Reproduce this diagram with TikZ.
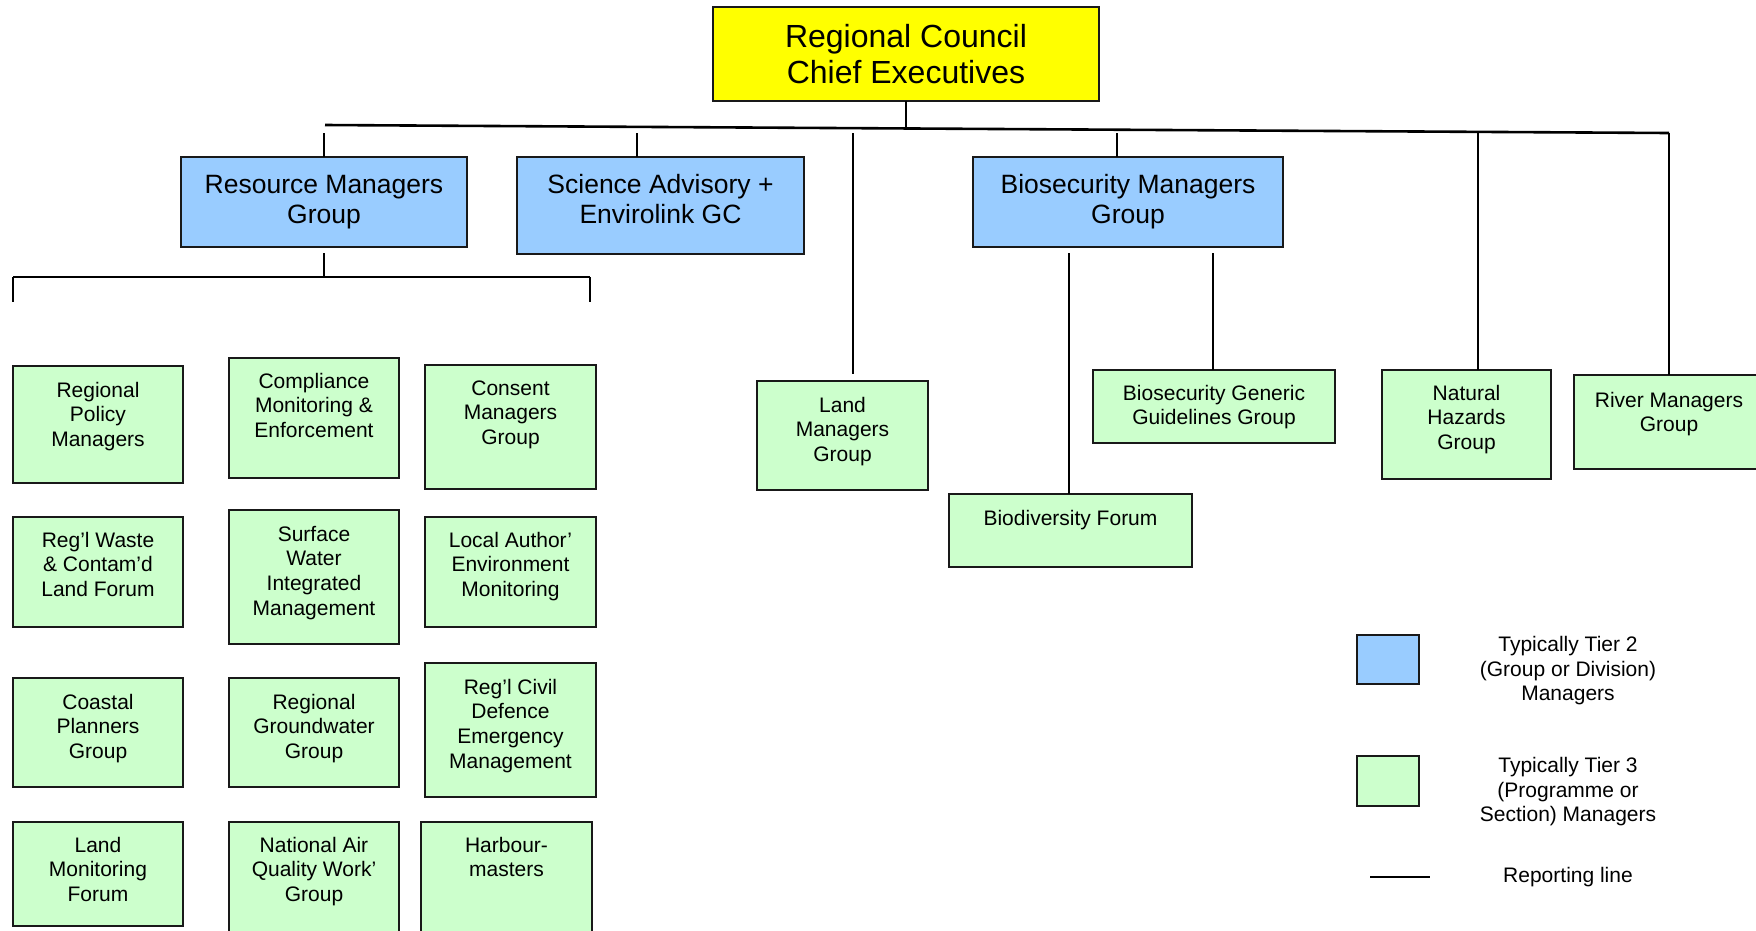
\documentclass[tikz,border=0pt]{standalone}
\usepackage{fontspec}
\setmainfont{Liberation Sans}
\definecolor{tiertop}{HTML}{FFFF00}
\definecolor{tiertwo}{HTML}{99CCFF}
\definecolor{tierthree}{HTML}{CCFFCC}
\newcommand\obox[8]{%
  \node[#7,anchor=north west] (#1) at (#2,#3)
    {\parbox[c][\dimexpr #5pt-#3pt\relax][t]{\dimexpr #4pt-#2pt\relax}{\centering\vspace*{#6pt}\strut #8}};}
\tikzset{
  boxbase/.style={draw=black!90,line width=2pt,inner sep=0pt,outer sep=0pt},
  topbox/.style={boxbase,fill=tiertop,font=\fontsize{32}{36}\selectfont},
  twobox/.style={boxbase,fill=tiertwo,font=\fontsize{26.5}{30}\selectfont},
  threebox/.style={boxbase,fill=tierthree,font=\fontsize{21}{24.6}\selectfont},
  legtext/.style={font=\fontsize{21}{24.5}\selectfont,align=center,inner sep=0pt},
  conn/.style={line width=1.6pt,black},
  barline/.style={line width=2.6pt,black},
}
\begin{document}
\begin{tikzpicture}[x=1pt,y=-1pt]
\useasboundingbox (0,0) rectangle (1756,930);
\clip (0,0) rectangle (1756,930);
% top
\obox{top}{713}{7}{1099}{101}{15}{topbox}{Regional Council\\Chief Executives}
% tier 2
\obox{rmg}{181}{157}{467}{247}{15}{twobox}{Resource Managers\\Group}
\obox{sci}{517}{157}{804}{254}{15}{twobox}{Science Advisory +\\Envirolink GC}
\obox{bio}{973}{157}{1283}{247}{15}{twobox}{Biosecurity Managers\\Group}
% tier 3 left grid
\obox{rpm}{13}{366}{183}{483}{14}{threebox}{Regional\\Policy\\Managers}
\obox{cme}{229}{358}{399}{478}{13}{threebox}{Compliance\\Monitoring \&\\Enforcement}
\obox{cmg}{425}{365}{596}{489}{13}{threebox}{Consent\\Managers\\Group}
\obox{rwf}{13}{517}{183}{627}{13}{threebox}{Reg’l Waste\\\& Contam’d\\Land Forum}
\obox{swi}{229}{510}{399}{644}{14}{threebox}{Surface\\Water\\Integrated\\Management}
\obox{lae}{425}{517}{596}{627}{13}{threebox}{Local Author’\\Environment\\Monitoring}
\obox{cpg}{13}{678}{183}{787}{14}{threebox}{Coastal\\Planners\\Group}
\obox{rgg}{229}{678}{399}{787}{14}{threebox}{Regional\\Groundwater\\Group}
\obox{rcd}{425}{663}{596}{797}{14}{threebox}{Reg’l Civil\\Defence\\Emergency\\Management}
\obox{lmf}{13}{822}{183}{926}{13}{threebox}{Land\\Monitoring\\Forum}
\obox{naq}{229}{822}{399}{945}{13}{threebox}{National Air\\Quality Work’\\Group}
\obox{hbm}{421}{822}{592}{945}{13}{threebox}{Harbour-\\masters}
% tier 3 right
\obox{lmg}{757}{381}{928}{490}{14}{threebox}{Land\\Managers\\Group}
\obox{bdf}{949}{494}{1192}{567}{14}{threebox}{Biodiversity Forum}
\obox{bgg}{1093}{370}{1335}{443}{13}{threebox}{Biosecurity Generic\\Guidelines Group}
\obox{nhg}{1382}{370}{1551}{479}{13}{threebox}{Natural\\Hazards\\Group}
\obox{rvg}{1574}{375}{1764}{469}{15}{threebox}{River Managers\\Group}
% main reporting bar
\coordinate (barL) at (325,125);
\coordinate (barR) at (1669,133);
\draw[barline] (barL) -- (barR);
\coordinate (topJ) at (906,128);
\draw[conn] (top.south) -- (topJ);
\coordinate (dR) at (324,133);
\coordinate (dS) at (637,133);
\coordinate (dL) at (853,133);
\coordinate (dB) at (1117,133);
\coordinate (dN) at (1478,133);
\draw[conn] (dR) -- (rmg.north);
\draw[conn] (dS) -- (dS |- sci.north);
\draw[conn,shorten >=7pt] (dL) -- (dL |- lmg.north);
\draw[conn] (dB) -- (dB |- bio.north);
\draw[conn] (dN) -- (dN |- nhg.north);
\draw[conn] (barR) -- (rvg.north);
% resource managers sub-bar
\coordinate (subJ) at (324,277);
\coordinate (subL) at (13,277);
\coordinate (subR) at (590,277);
\draw[conn,shorten <=6pt] (rmg.south) -- (subJ);
\draw[barline] (subL) -- (subR);
\draw[conn] (subL) -- ++(0,25);
\draw[conn] (subR) -- ++(0,25);
% biosecurity sub lines
\coordinate (bA) at (1069,247);
\coordinate (bB) at (1213,247);
\draw[conn,shorten <=6pt] (bA) -- (bA |- bdf.north);
\draw[conn,shorten <=6pt] (bB) -- (bB |- bgg.north);
% legend
\node[boxbase,fill=tiertwo,anchor=north west,minimum width=62pt,minimum height=49pt] (legtwo) at (1357,635) {};
\node[boxbase,fill=tierthree,anchor=north west,minimum width=62pt,minimum height=50pt] (legthree) at (1357,756) {};
\coordinate (legA) at (1370,877);
\coordinate (legB) at (1430,877);
\draw[barline] (legA) -- (legB);
\node[legtext] (legtwot) at (1568,671) {Typically Tier 2\\(Group or Division)\\Managers};
\node[legtext] (legthreet) at (1568,792) {Typically Tier 3\\(Programme or\\Section) Managers};
\node[legtext] (legline) at (1568,877) {Reporting line};
\end{tikzpicture}
\end{document}
